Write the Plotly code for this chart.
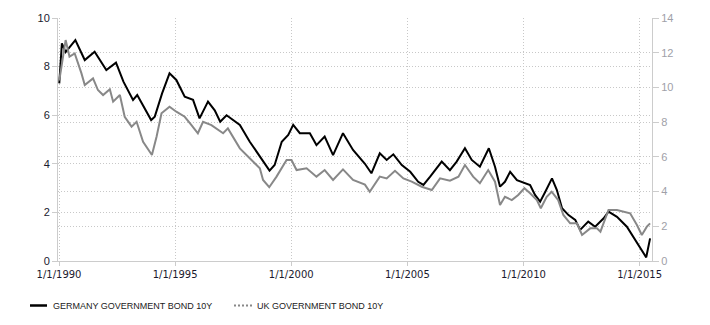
import plotly.graph_objects as go

# ---------------- data ----------------
series_names = ["GERMANY GOVERNMENT BOND 10Y", "UK GOVERNMENT BOND 10Y"]

de_dates = [
    "1990-01-05", "1990-02-15", "1990-04-15", "1990-09-15", "1991-02-10", "1991-07-15",
    "1992-01-15", "1992-06-15", "1992-10-10", "1993-03-10", "1993-05-15", "1993-12-20",
    "1994-02-15", "1994-06-10", "1994-10-05", "1995-01-20", "1995-06-01", "1995-10-10",
    "1996-01-20", "1996-06-01", "1996-09-15", "1996-12-10", "1997-03-20", "1997-10-15",
    "1998-03-20", "1998-08-25", "1999-01-25", "1999-04-15", "1999-08-05", "1999-11-15",
    "2000-02-01", "2000-05-15", "2000-10-20", "2001-02-01", "2001-06-10", "2001-10-20",
    "2002-03-25", "2002-08-30", "2002-12-15", "2003-03-05", "2003-06-15", "2003-10-25",
    "2004-02-10", "2004-05-25", "2004-10-05", "2005-02-15", "2005-06-20", "2005-09-10",
    "2005-12-25", "2006-06-25", "2006-11-01", "2007-02-15", "2007-06-25", "2007-10-10",
    "2008-02-15", "2008-07-05", "2008-10-10", "2008-12-28", "2009-03-15", "2009-06-05",
    "2009-09-20", "2010-01-01", "2010-04-15", "2010-07-01", "2010-09-20", "2010-12-10",
    "2011-03-25", "2011-06-10", "2011-08-30", "2011-12-10", "2012-03-25", "2012-06-10",
    "2012-10-15", "2013-02-01", "2013-06-15", "2013-08-30", "2014-01-10", "2014-06-15",
    "2014-10-20", "2015-02-05", "2015-04-15", "2015-06-15",
]
de_values = [
    7.31, 8.96, 8.60, 9.09, 8.27, 8.61,
    7.86, 8.16, 7.38, 6.63, 6.83, 5.80,
    5.94, 6.90, 7.72, 7.45, 6.76, 6.63,
    5.87, 6.56, 6.20, 5.73, 6.00, 5.60,
    4.91, 4.29, 3.72, 3.95, 4.91, 5.19,
    5.60, 5.26, 5.26, 4.77, 5.12, 4.36,
    5.26, 4.57, 4.23, 4.00, 3.61, 4.43,
    4.16, 4.39, 3.95, 3.67, 3.26, 3.13,
    3.47, 4.09, 3.74, 4.09, 4.64, 4.16,
    3.88, 4.64, 3.88, 3.06, 3.26, 3.67,
    3.33, 3.22, 3.13, 2.72, 2.44, 2.85,
    3.40, 2.92, 2.17, 1.89, 1.69, 1.28,
    1.62, 1.41, 1.76, 2.03, 1.82, 1.41,
    0.86, 0.45, 0.15, 0.93,
]

uk_dates = [
    "1990-01-05", "1990-04-15", "1990-06-15", "1990-09-05", "1990-12-20", "1991-02-10",
    "1991-06-20", "1991-09-05", "1991-11-25", "1992-03-10", "1992-05-01", "1992-08-15",
    "1992-10-30", "1993-02-15", "1993-05-05", "1993-08-15", "1994-01-01", "1994-03-15",
    "1994-06-01", "1994-10-05", "1995-01-20", "1995-06-01", "1995-09-15", "1995-12-25",
    "1996-03-15", "1996-07-25", "1997-01-25", "1997-04-10", "1997-10-15", "1998-03-20",
    "1998-08-25", "1998-10-15", "1999-01-20", "1999-05-15", "1999-10-20", "2000-01-05",
    "2000-03-25", "2000-08-30", "2001-02-01", "2001-06-10", "2001-10-20", "2002-03-25",
    "2002-08-30", "2003-03-05", "2003-05-20", "2003-10-25", "2004-02-10", "2004-06-20",
    "2004-10-30", "2005-03-10", "2005-08-15", "2006-01-20", "2006-05-30", "2006-11-01",
    "2007-03-15", "2007-06-25", "2007-11-01", "2008-02-15", "2008-06-25", "2008-10-10",
    "2008-12-28", "2009-03-15", "2009-07-01", "2009-10-10", "2010-01-15", "2010-04-15",
    "2010-07-30", "2010-09-30", "2011-01-01", "2011-03-20", "2011-07-01", "2011-09-20",
    "2012-01-05", "2012-04-20", "2012-07-10", "2012-11-15", "2013-03-01", "2013-04-25",
    "2013-08-30", "2014-01-10", "2014-04-20", "2014-08-05", "2014-11-20", "2015-02-05",
    "2015-04-25", "2015-06-15",
]
uk_values = [
    10.40, 12.73, 11.77, 11.96, 10.81, 10.14,
    10.52, 9.85, 9.56, 9.89, 9.18, 9.56,
    8.31, 7.74, 8.02, 6.87, 6.11, 7.16,
    8.51, 8.89, 8.60, 8.31, 7.83, 7.36,
    8.02, 7.83, 7.36, 7.64, 6.49, 5.92,
    5.34, 4.67, 4.25, 4.86, 5.82, 5.82,
    5.24, 5.34, 4.86, 5.24, 4.67, 5.28,
    4.67, 4.40, 3.99, 4.86, 4.76, 5.20,
    4.76, 4.57, 4.28, 4.09, 4.76, 4.63,
    4.86, 5.53, 4.86, 4.48, 5.24, 4.57,
    3.23, 3.70, 3.51, 3.80, 4.19, 3.90,
    3.51, 3.04, 3.70, 3.99, 3.51, 2.65,
    2.17, 2.17, 1.50, 1.88, 1.88, 1.69,
    2.94, 2.94, 2.84, 2.75, 2.07, 1.50,
    1.98, 2.17,
]

x_tick_vals = ["1990-01-01", "1995-01-01", "2000-01-01", "2005-01-01", "2010-01-01", "2015-01-01"]
x_tick_text = ["1/1/1990", "1/1/1995", "1/1/2000", "1/1/2005", "1/1/2010", "1/1/2015"]
y_left_ticks = [0, 2, 4, 6, 8, 10]
y_right_ticks = [0, 2, 4, 6, 8, 10, 12, 14]

# ---------------- styling ----------------
DE_COLOR = "#000000"
UK_COLOR = "#888888"
GRID = "#c8c8c8"
AXIS = "#cccccc"
GRID_DASH = "1px,2px"
FONT = "Liberation Sans, Arial, sans-serif"

fig = go.Figure()
fig.add_trace(go.Scatter(
    x=uk_dates, y=uk_values, name=series_names[1], mode="lines",
    line=dict(color=UK_COLOR, width=2), yaxis="y2", showlegend=False,
))
fig.add_trace(go.Scatter(
    x=de_dates, y=de_values, name=series_names[0], mode="lines",
    line=dict(color=DE_COLOR, width=2), yaxis="y", showlegend=False,
))

W, H = 710, 325
ML, MR, MT, MB = 58, 58, 18, 64

fig.update_layout(
    width=W, height=H,
    margin=dict(l=ML, r=MR, t=MT, b=MB, pad=0),
    paper_bgcolor="white", plot_bgcolor="white",
    font=dict(family=FONT, size=11, color="#111"),
    showlegend=False,
    xaxis=dict(
        type="date", range=["1989-12-16", "2015-07-15"],
        tickmode="array", tickvals=x_tick_vals, ticktext=x_tick_text,
        showgrid=True, gridcolor=GRID, griddash=GRID_DASH, gridwidth=1,
        showline=True, linecolor=AXIS, linewidth=1,
        ticks="outside", ticklen=4, tickcolor=AXIS,
        tickfont=dict(family="DejaVu Sans, Verdana, sans-serif", size=10, color="#1a1a2e"),
        zeroline=False,
    ),
    yaxis=dict(
        range=[0, 10], tickmode="array", tickvals=y_left_ticks,
        showgrid=True, gridcolor=GRID, griddash=GRID_DASH, gridwidth=1,
        showline=True, linecolor=AXIS, linewidth=1,
        ticks="outside", ticklen=5, tickcolor=AXIS,
        tickfont=dict(family=FONT, size=11, color="#1a1a2e"),
        zeroline=False,
    ),
    yaxis2=dict(
        range=[0, 14], tickmode="array", tickvals=y_right_ticks,
        overlaying="y", side="right",
        showgrid=True, gridcolor=GRID, griddash=GRID_DASH, gridwidth=1,
        showline=True, linecolor=AXIS, linewidth=1,
        ticks="outside", ticklen=6, tickcolor=AXIS,
        tickfont=dict(family=FONT, size=11, color="#a0a0a8"),
        zeroline=False,
    ),
)

# ---------------- manual legend below the plot ----------------
pw = W - ML - MR
ph = H - MT - MB
def px_x(px):
    return (px - ML) / pw
def px_y(py):
    return (H - MB - py) / ph

legend_y = 305.5
fig.add_shape(type="line", xref="paper", yref="paper",
              x0=px_x(30), x1=px_x(47), y0=px_y(legend_y), y1=px_y(legend_y),
              line=dict(color=DE_COLOR, width=2.5))
fig.add_shape(type="line", xref="paper", yref="paper",
              x0=px_x(234), x1=px_x(252), y0=px_y(legend_y), y1=px_y(legend_y),
              line=dict(color=UK_COLOR, width=2, dash="2px,2px"))
fig.add_annotation(xref="paper", yref="paper", x=px_x(51), y=px_y(legend_y),
                   text=series_names[0], showarrow=False, xanchor="left", yanchor="middle",
                   font=dict(family=FONT, size=9, color="#222"))
fig.add_annotation(xref="paper", yref="paper", x=px_x(255), y=px_y(legend_y),
                   text=series_names[1], showarrow=False, xanchor="left", yanchor="middle",
                   font=dict(family=FONT, size=9, color="#222"))

fig.write_html("out.html")
